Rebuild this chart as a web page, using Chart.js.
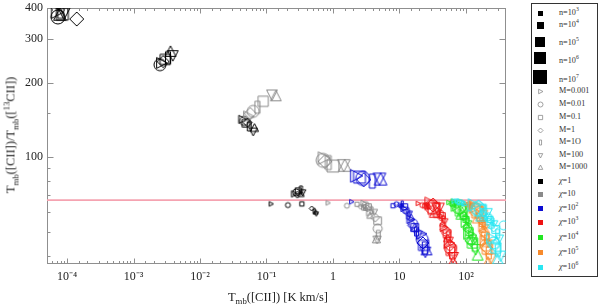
<!DOCTYPE html>
<html><head><meta charset="utf-8">
<script src="https://cdn.jsdelivr.net/npm/chart.js@4.4.1/dist/chart.umd.min.js"></script>
<style>
html,body{margin:0;padding:0;background:#fff;}
#wrap{position:relative;width:600px;height:307px;overflow:hidden;font-family:'Liberation Serif','Times New Roman',serif;color:#222;}
#c{position:absolute;left:0;top:0;}
.ytitle{position:absolute;left:11px;top:135px;transform:translate(-50%,-50%) rotate(-90deg);white-space:nowrap;font-size:12.5px;}
.xtitle{position:absolute;left:278px;top:297px;transform:translate(-50%,-50%);white-space:nowrap;font-size:12.5px;}
sub,sup{font-size:70%;line-height:0;}
#legend{position:absolute;left:531px;top:3px;width:67px;height:274px;border:1px solid #333;box-sizing:border-box;background:#fff;}
.li{position:absolute;}
.lt{position:absolute;left:27px;font-size:8.2px;white-space:nowrap;transform:translateY(-50%);line-height:1;color:#333;}
</style>
</head><body>
<div id="wrap">
<canvas id="c" width="600" height="307"></canvas>
<div class="ytitle">T<sub>mb</sub>([CII])/T<sub>mb</sub>([<sup>13</sup>CII])</div>
<div class="xtitle">T<sub>mb</sub>([CII]) [K km/s]</div>
<div id="legend"></div>
</div>
<script>
// ---------- categories ----------
const nLevels   = ['3','4','5','6','7'];                       // n = 10^k
const mLevels   = ['0.001','0.01','0.1','1','1O','100','1000'];
const chiLevels = ['1','10','10<sup>2</sup>','10<sup>3</sup>','10<sup>4</sup>','10<sup>5</sup>','10<sup>6</sup>'];

// ---------- tick labels ----------
const xTickValues = [1e-4, 1e-3, 1e-2, 1e-1, 1, 10, 100];
const xTickLabels = ['10\u207B\u2074','10\u207B\u00B3','10\u207B\u00B2','10\u207B\u00B9','1','10','10\u00B2'];
const yTickValues = [100, 200, 300, 400];
const yTickLabels = ['100','200','300','400'];

// ---------- reference line ----------
const refLineX = [5e-5, 400];
const refLineY = [67, 67];

// ---------- series values: rows = n (10^3..10^7), columns = M (0.001..1000) ----------
const chi1X = [
  [0.117, 0.21, 0.34, 0.48, 0.52, 0.56, 0.55],
  [0.26, 0.28, 0.30, 0.29, 0.33, 0.35, 0.33],
  [0.043, 0.046, 0.049, 0.052, 0.055, 0.063, 0.066],
  [0.0026, 0.0025, 0.0030, 0.0028, 0.0033, 0.0039, 0.0036],
  [0.000070, 0.000073, 0.000085, 0.00014, 0.000080, 0.000090, 0.000078]
];
const chi1Y = [
  [64.7, 64, 64.7, 62, 60.5, 59, 60],
  [71, 72, 73, 70.5, 74, 72, 71],
  [142, 140, 137, 138, 133, 127, 131],
  [240, 236, 248, 243, 252, 258, 266],
  [385, 368, 378, 361, 388, 383, 375]
];
const chi10X = [
  [0.84, 1.62, 2.3, 2.6, 2.8, 3.0, 3.1],
  [2.9, 3.1, 3.4, 3.3, 3.8, 4.2, 3.6],
  [3.6, 4.7, 4.7, 4.3, 4.8, 4.6, 4.5],
  [0.053, 0.063, 0.089, 0.057, 0.073, 0.121, 0.138],
  [0.72, 0.71, 1.0, 0.76, 0.85, 1.45, 1.5]
];
const chi10Y = [
  [65.3, 63.6, 64.5, 63, 62.5, 63, 62],
  [65, 64, 63, 62, 61, 60, 58],
  [60, 51.4, 55.3, 57, 48.5, 46.5, 46.5],
  [146, 153, 168, 150, 159, 179, 176],
  [99, 97, 92, 96, 95, 93, 92]
];
const chi1e2X = [
  [1.9, 9.0, 8.0, 10, 11, 10.5, 10.8],
  [11.5, 12.5, 12, 13, 13.5, 14, 15],
  [14.5, 16, 17, 15.5, 18, 19, 17],
  [21, 22, 23, 22.5, 24, 24.5, 25.5],
  [2.2, 2.8, 2.5, 2.9, 3.9, 5.0, 5.2]
];
const chi1e2Y = [
  [66, 64.5, 63.6, 64, 65, 63, 64],
  [62, 61, 63, 60, 58, 59, 57],
  [56, 54, 52, 53, 50, 48.5, 51.8],
  [49, 46.5, 44, 45, 43, 41.5, 42],
  [84, 82, 83, 81, 80, 82, 81]
];
const chi1e3X = [
  [19, 22, 24, 25, 27, 26, 28],
  [38, 41, 44, 42, 46, 48, 45],
  [46, 50, 52, 48, 54, 56, 53],
  [55, 58, 60, 57, 62, 64, 64],
  [29, 31, 33, 32, 36, 38, 35]
];
const chi1e3Y = [
  [65, 64, 63.5, 64.5, 63, 64, 63],
  [61, 59, 58, 57, 56, 55, 54],
  [52, 50, 49, 51, 48, 46, 47],
  [45, 43, 42, 44, 41, 39.5, 37.5],
  [65, 63, 62, 64, 61, 62, 60]
];
const chi1e4X = [
  [55, 60, 63, 65, 68, 70, 72],
  [84, 92, 100, 96, 105, 110, 102],
  [95, 105, 112, 108, 118, 125, 120],
  [108, 118, 125, 120, 135, 140, 150],
  [72, 78, 85, 80, 90, 95, 88]
];
const chi1e4Y = [
  [65.5, 65, 64.5, 65, 64, 65, 64],
  [60, 58, 56, 57, 55, 54, 53],
  [54, 52, 50, 51, 49, 47, 46],
  [49, 47, 45, 46, 44, 42.5, 40],
  [64, 63, 61, 62, 60, 61, 59]
];
const chi1e5X = [
  [100, 108, 115, 112, 120, 125, 130],
  [155, 165, 175, 170, 185, 195, 180],
  [175, 185, 195, 190, 205, 215, 200],
  [190, 200, 210, 205, 220, 235, 215],
  [135, 145, 150, 140, 160, 170, 155]
];
const chi1e5Y = [
  [65, 64.5, 64, 65, 63.5, 64, 63],
  [58, 56, 54, 55, 53, 52, 51],
  [52, 50, 48, 49, 47, 45, 45],
  [46, 44, 42.5, 43, 41, 39, 37.5],
  [63, 61, 60, 62, 59, 58, 57]
];
const chi1e6X = [
  [66, 75, 80, 85, 90, 72, 95],
  [190, 215, 230, 220, 250, 270, 240],
  [230, 370, 280, 260, 300, 320, 290],
  [240, 260, 280, 270, 300, 330, 300],
  [130, 150, 165, 155, 180, 200, 175]
];
const chi1e6Y = [
  [66.5, 66, 65.5, 66, 65, 66.5, 65],
  [59, 57, 56, 58, 55, 54, 53],
  [55, 53, 51, 52, 49, 47, 46],
  [47, 45, 43, 44, 42, 40, 38.5],
  [64, 62, 61, 63, 60, 59, 58]
];

// ---------- styles ----------
const chiColors = ['#000000', '#8a8a8a', '#0c0cd2', '#ee1212', '#22e622', '#f78a2c', '#2ae6f2'];
const mShapes   = ['triR', 'circle', 'square', 'diamond', 'bar', 'triD', 'triU'];
const nSizes    = [5, 7, 9, 12, 14];

const allX = [chi1X, chi10X, chi1e2X, chi1e3X, chi1e4X, chi1e5X, chi1e6X];
const allY = [chi1Y, chi10Y, chi1e2Y, chi1e3Y, chi1e4Y, chi1e5Y, chi1e6Y];

function shapePath(c, shape, cx, cy, d) {
  const r = d / 2;
  c.beginPath();
  switch (shape) {
    case 'circle': c.arc(cx, cy, r, 0, Math.PI * 2); break;
    case 'square': c.rect(cx - r * 0.85, cy - r * 0.85, r * 1.7, r * 1.7); break;
    case 'diamond': c.moveTo(cx, cy - r); c.lineTo(cx + r, cy); c.lineTo(cx, cy + r); c.lineTo(cx - r, cy); c.closePath(); break;
    case 'bar': c.rect(cx - r * 0.42, cy - r, r * 0.84, 2 * r); break;
    case 'triU': c.moveTo(cx, cy - r); c.lineTo(cx + r * 0.9, cy + r * 0.75); c.lineTo(cx - r * 0.9, cy + r * 0.75); c.closePath(); break;
    case 'triD': c.moveTo(cx, cy + r); c.lineTo(cx + r * 0.9, cy - r * 0.75); c.lineTo(cx - r * 0.9, cy - r * 0.75); c.closePath(); break;
    case 'triR': c.moveTo(cx + r, cy); c.lineTo(cx - r * 0.75, cy - r * 0.9); c.lineTo(cx - r * 0.75, cy + r * 0.9); c.closePath(); break;
  }
}
function makeMarker(shape, d, color, fill, lw) {
  const s = Math.ceil(d) + 4;
  const cv = document.createElement('canvas');
  cv.width = s; cv.height = s;
  const c = cv.getContext('2d');
  shapePath(c, shape, s / 2, s / 2, d);
  if (fill) { c.fillStyle = color; c.fill(); }
  else { c.strokeStyle = color; c.lineWidth = lw || 1; c.stroke(); }
  return cv;
}
const markerCache = chiColors.map(col => nSizes.map(d => mShapes.map(sh => makeMarker(sh, d, col, false, 1))));

const datasets = [{
  type: 'line',
  label: 'ratio',
  data: refLineX.map((x, i) => ({ x, y: refLineY[i] })),
  borderColor: '#f5a3b1',
  borderWidth: 1.6,
  pointRadius: 0,
  showLine: true,
  order: 10
}];
chiLevels.forEach((c, ci) => {
  const pts = [];
  for (let n = 0; n < nLevels.length; n++)
    for (let m = 0; m < mLevels.length; m++)
      pts.push({ x: allX[ci][n][m], y: allY[ci][n][m], n, m });
  datasets.push({
    type: 'scatter',
    label: 'chi' + ci,
    data: pts,
    order: 7 - ci,
    pointStyle: ctx => markerCache[ci][ctx.raw.n][ctx.raw.m],
    pointRadius: ctx => nSizes[ctx.raw.n] / 2,
    borderColor: chiColors[ci],
    backgroundColor: chiColors[ci]
  });
});

const frame = {
  id: 'frame',
  beforeDatasetsDraw(chart) {
    const { ctx, chartArea: a, scales: { x, y } } = chart;
    ctx.save();
    ctx.strokeStyle = '#8f8f8f';
    ctx.lineWidth = 1;
    const L = Math.round(a.left) + 0.5, R = Math.round(a.right) - 0.5, T = Math.round(a.top) + 0.5, B = Math.round(a.bottom) - 0.5;
    ctx.strokeRect(L, T, R - L, B - T);
    ctx.beginPath();
    x.ticks.forEach(t => {
      const px = Math.round(x.getPixelForValue(t.value)) + 0.5;
      if (px < L || px > R) return;
      const major = xTickValues.some(v => Math.abs(v - t.value) / v < 1e-6);
      const len = major ? 5 : 2.5;
      ctx.moveTo(px, B); ctx.lineTo(px, B - len);
      ctx.moveTo(px, T); ctx.lineTo(px, T + len);
    });
    y.ticks.forEach(t => {
      const py = Math.round(y.getPixelForValue(t.value)) + 0.5;
      if (py < T || py > B) return;
      const major = yTickValues.some(v => Math.abs(v - t.value) / v < 1e-6);
      const len = major ? 6 : 3;
      ctx.moveTo(L, py); ctx.lineTo(L + len, py);
      ctx.moveTo(R, py); ctx.lineTo(R - len, py);
    });
    ctx.stroke();
    ctx.restore();
  }
};

new Chart(document.getElementById('c'), {
  type: 'scatter',
  data: { datasets },
  plugins: [frame],
  options: {
    responsive: false,
    animation: false,
    events: [],
    layout: { padding: { left: 0, right: 94, top: 5, bottom: 0 } },
    plugins: { legend: { display: false }, tooltip: { enabled: false } },
    scales: {
      x: {
        type: 'logarithmic',
        min: 5e-5, max: 400,
        grid: { display: false, drawTicks: false },
        border: { display: false },
        ticks: {
          autoSkip: false, maxRotation: 0, padding: 6, color: '#222',
          font: { family: "'Liberation Serif', serif", size: 12 },
          callback: v => { const i = xTickValues.findIndex(t => Math.abs(t - v) / t < 1e-6); return i >= 0 ? xTickLabels[i] : ''; }
        },
        afterFit: s => { s.height = 43; s.paddingLeft = 0; s.paddingRight = 0; }
      },
      y: {
        type: 'logarithmic',
        min: 37, max: 400,
        grid: { display: false, drawTicks: false },
        border: { display: false },
        ticks: {
          autoSkip: false, padding: 4, color: '#222',
          font: { family: "'Liberation Serif', serif", size: 12 },
          callback: v => { const i = yTickValues.findIndex(t => Math.abs(t - v) / t < 1e-6); return i >= 0 ? yTickLabels[i] : ''; }
        },
        afterFit: s => { s.width = 47; s.paddingTop = 0; s.paddingBottom = 0; }
      }
    }
  }
});

// ---------- legend ----------
const legend = document.getElementById('legend');
const legendRows = [];
nLevels.forEach((k, i) => legendRows.push({ kind: 'n', i, text: 'n=10<sup>' + k + '</sup>' }));
mLevels.forEach((k, i) => legendRows.push({ kind: 'm', i, text: 'M=' + k }));
chiLevels.forEach((k, i) => legendRows.push({ kind: 'c', i, text: '<i>\u03C7</i>=' + k }));
const legendIconY = [13, 25, 42, 58, 77, 91, 104, 117, 130, 142, 155, 167, 181, 194, 208, 222, 237, 252, 267];
const legendTextDy = [0, 0, 1, 3, 3, 0, 0, 0, 0, 0, 0, 0, 0, 0, 0, 0, 0, 0, 0];
const legendSquare = [5, 7, 10, 12, 14];
legendRows.forEach((r, j) => {
  const top = legendIconY[j] - 4;
  let cv;
  if (r.kind === 'n') { const d = legendSquare[r.i]; cv = document.createElement('canvas'); cv.width = d; cv.height = d; const c = cv.getContext('2d'); c.fillStyle = '#000'; c.fillRect(0, 0, d, d); }
  else if (r.kind === 'm') { cv = makeMarker(mShapes[r.i], 5, '#8a8a8a', false, 0.8); }
  else { cv = document.createElement('canvas'); cv.width = 5; cv.height = 5; const c = cv.getContext('2d'); c.fillStyle = chiColors[r.i]; c.fillRect(0, 0, 5, 5); }
  cv.className = 'li';
  cv.style.left = (8 - cv.width / 2) + 'px';
  cv.style.top = (top - cv.height / 2) + 'px';
  legend.appendChild(cv);
  const t = document.createElement('div');
  t.className = 'lt';
  t.style.top = (top + legendTextDy[j]) + 'px';
  t.innerHTML = r.text;
  legend.appendChild(t);
});
</script>
</body></html>
